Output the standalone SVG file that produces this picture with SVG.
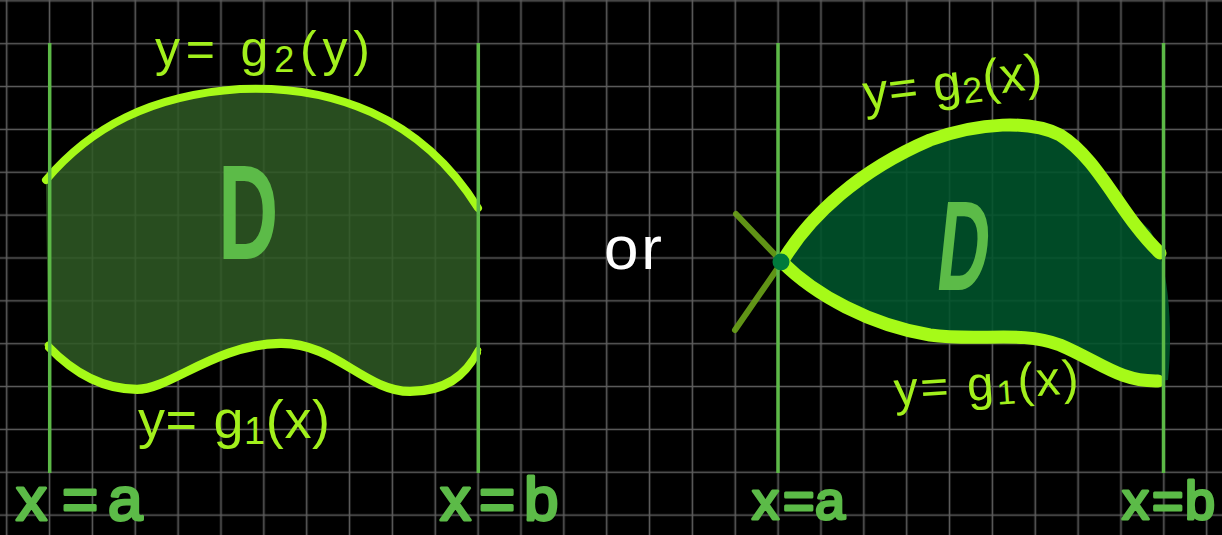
<svg xmlns="http://www.w3.org/2000/svg" width="1222" height="535" viewBox="0 0 1222 535">
<defs>
<pattern id="grid" patternUnits="userSpaceOnUse" x="-14.73" y="-20.59" width="42.857" height="42.857">
<path d="M21.43 0V42.857M0 21.43H42.857" stroke="#5e5e5e" stroke-width="1.6" fill="none"/>
</pattern>
<style>
.lbl{font-family:"Liberation Sans",Arial,sans-serif;fill:#a2f01c}
.ax{font-family:"Liberation Sans",Arial,sans-serif;fill:#5cbb48;stroke:#5cbb48;stroke-width:3;stroke-linejoin:round}
.dd{font-family:"Liberation Sans",Arial,sans-serif;fill:#5cbb48;font-weight:bold}
.edge{stroke:#5cb947;stroke-width:3.5;fill:none}
.curve{stroke:#a6fa18;fill:none;stroke-linecap:round;stroke-linejoin:round}
</style>
</defs>
<rect width="1222" height="535" fill="#000"/>
<rect width="1222" height="535" fill="url(#grid)"/>

<g id="region-left">
<path d="M46,180 C90,128 150,95 240,89 C330,85 420,115 478,208 L478,350 C465,375 445,390 410,390 C365,390 335,341 280,342 C215,343 170,388 137,388 C100,388 70,368 48,345 Z" fill="#2f5a24" fill-opacity="0.85"/>
<path class="curve" d="M48,348 C70,371 100,391 137,391 C170,391 215,346 280,345 C335,344 365,393 410,393 C445,393 465,378 478,353" stroke="#000" stroke-width="6"/>
<path class="curve" d="M46,180 C90,128 150,95 240,89 C330,85 420,115 478,208" stroke-width="8"/>
<path class="curve" d="M48,345 C70,368 100,388 137,388 C170,388 215,343 280,342 C335,341 365,390 410,390 C445,390 465,375 478,350" stroke-width="6.5"/>
<text class="dd" font-size="135" transform="translate(218,259) scale(0.62,1)">D</text>
</g>

<g id="region-right">
<path d="M782,262 C810,215 860,170 930,140 C980,122 1030,120 1060,135 C1100,160 1120,205 1150,230 C1172,270 1172,340 1168,380 L1158,381 C1120,382 1100,362 1060,345 C1020,330 980,342 930,335 C870,325 815,295 782,262 Z" fill="#00542b" fill-opacity="0.88"/>
<path d="M736,214 L782,262 M735,330 L782,262" stroke="#6aa318" stroke-width="6" stroke-linecap="round" fill="none" opacity="0.9"/>
<path class="curve" d="M782,262 C810,215 860,170 930,140 C980,122 1030,120 1060,135 C1100,160 1120,215 1160,253" stroke-width="13"/>
<path class="curve" d="M782,262 C815,295 870,325 930,335 C980,342 1020,330 1060,345 C1100,362 1120,382 1158,381" stroke-width="13"/>
<text class="dd" font-size="128" transform="translate(934,290) skewX(-6) scale(0.56,1)">D</text>
</g>

<g id="connectors">
<line class="edge" x1="49.7" y1="43" x2="49.7" y2="473"/>
<line class="edge" x1="478.3" y1="43" x2="478.3" y2="473"/>
<line class="edge" x1="778" y1="43" x2="778" y2="473"/>
<line class="edge" x1="1163.5" y1="43" x2="1163.5" y2="473"/>
<circle cx="781" cy="262" r="8.5" fill="#007a3c"/>
</g>

<g id="labels">
<text class="lbl" x="155" y="66" font-size="50" textLength="215" lengthAdjust="spacing">y= g<tspan font-size="36" dy="6">2</tspan><tspan dy="-6">(y)</tspan></text>
<text class="lbl" x="138" y="438" font-size="54" textLength="192" lengthAdjust="spacing">y= g<tspan font-size="38" dy="6">1</tspan><tspan dy="-6">(x)</tspan></text>
<text class="lbl" font-size="50" textLength="180" lengthAdjust="spacing" transform="translate(865,110) rotate(-7)">y= g<tspan font-size="36" dy="6">2</tspan><tspan dy="-6">(x)</tspan></text>
<text class="lbl" font-size="48" textLength="185" lengthAdjust="spacing" transform="translate(895,406) rotate(-4)">y= g<tspan font-size="34" dy="6">1</tspan><tspan dy="-6">(x)</tspan></text>
<text class="ax" y="520" font-size="62"><tspan x="16">x</tspan><tspan x="62">=</tspan><tspan x="108">a</tspan></text>
<text class="ax" y="520" font-size="62"><tspan x="440">x</tspan><tspan x="479">=</tspan><tspan x="524">b</tspan></text>
<text class="ax" y="519" font-size="54"><tspan x="752">x</tspan><tspan x="783">=</tspan><tspan x="815">a</tspan></text>
<text class="ax" y="519" font-size="54"><tspan x="1122">x</tspan><tspan x="1152">=</tspan><tspan x="1185">b</tspan></text>
<text x="604" y="269" font-size="62" textLength="58" lengthAdjust="spacing" font-family="Liberation Sans, Arial, sans-serif" fill="#fff">or</text>
</g>
</svg>
